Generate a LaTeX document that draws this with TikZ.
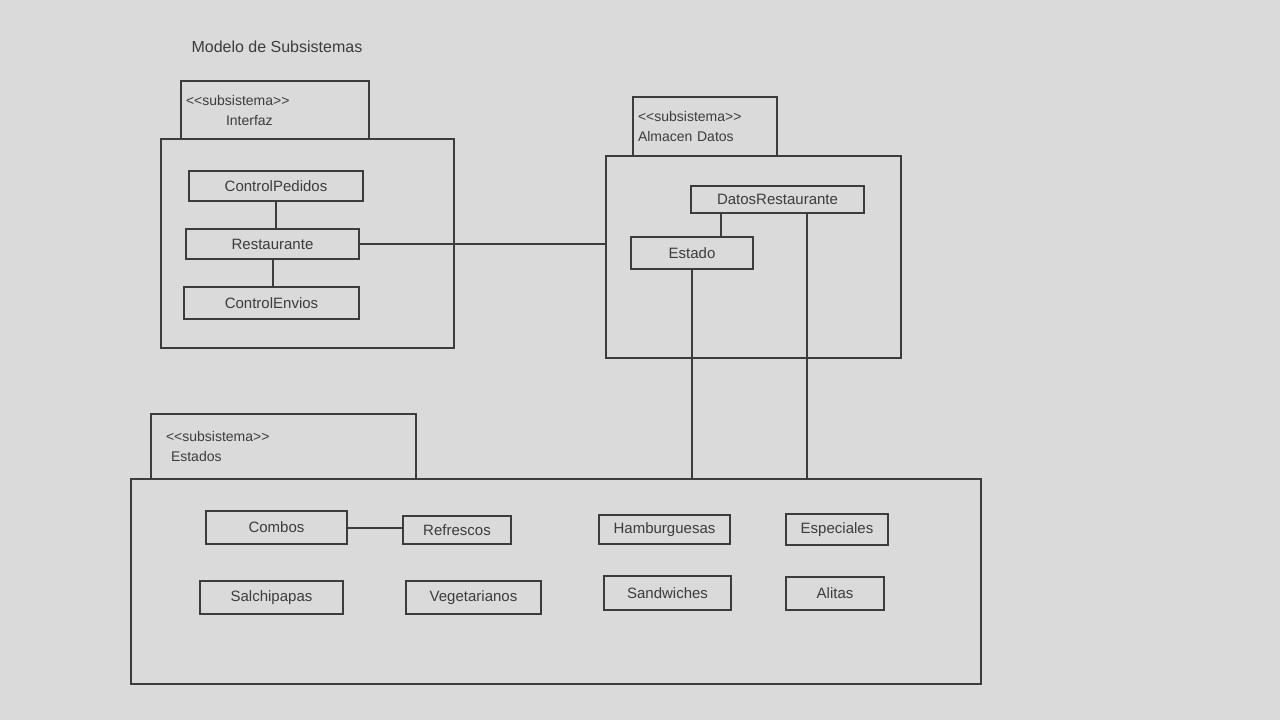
\documentclass[tikz,border=0pt]{standalone}
\usepackage{fontspec}
\setmainfont{Liberation Sans}
\definecolor{ink}{HTML}{3C3C3C}
\definecolor{paper}{HTML}{DADADA}
\begin{document}
\begin{tikzpicture}[x=1pt,y=-1pt,
  pen/.style={draw=ink, line width=2pt},
  cls/.style={pen, rectangle, anchor=north west, inner sep=3pt, text=ink,
    font=\fontsize{15}{17}\selectfont},
  tab/.style={pen, rectangle, anchor=north west, inner sep=5pt, text=ink,
    align=left, font=\fontsize{14}{20}\selectfont},
  pkg/.style={pen, rectangle, anchor=north west, inner sep=0pt},
  link/.style={draw=ink, line width=2pt}]
\useasboundingbox[fill=paper] (0,0) rectangle (1280,720);

\node[anchor=west, text=ink, font=\fontsize{16}{18}\selectfont] (title) at (188,47) {Modelo de Subsistemas};

% Interfaz
\node[tab, minimum width=188pt, minimum height=58pt, text width=178pt] (itab) at (180,80) {<{}<subsistema>{}>\\\hspace*{40pt}Interfaz};
\node[pkg, minimum width=293pt, minimum height=209pt] (ibody) at (160,138) {};
\node[cls, minimum width=174pt, minimum height=30pt] (cp) at (188,170) {ControlPedidos};
\node[cls, minimum width=173pt, minimum height=30pt] (rest) at (185,228) {Restaurante};
\node[cls, minimum width=175pt, minimum height=32pt] (ce) at (183,286) {ControlEnvios};

% Almacen Datos
\node[tab, minimum width=144pt, minimum height=59pt, text width=134pt] (atab) at (632,96) {<{}<subsistema>{}>\\Almacen Datos};
\node[pkg, minimum width=295pt, minimum height=202pt] (abody) at (605,155) {};
\node[cls, minimum width=173pt, minimum height=27pt] (dr) at (690,185) {DatosRestaurante};
\node[cls, minimum width=122pt, minimum height=32pt] (estado) at (630,236) {Estado};

% Estados
\node[tab, minimum width=265pt, minimum height=65pt, text width=255pt] (etab) at (150,413) {\hspace*{10pt}<{}<subsistema>{}>\\\hspace*{15pt}Estados};
\node[pkg, minimum width=850pt, minimum height=205pt] (ebody) at (130,478) {};
\node[cls, minimum width=141pt, minimum height=33pt] (combos) at (205,510) {Combos};
\node[cls, minimum width=108pt, minimum height=28pt] (refr) at (402,515) {Refrescos};
\node[cls, minimum width=131pt, minimum height=29pt] (hamb) at (598,514) {Hamburguesas};
\node[cls, minimum width=102pt, minimum height=31pt] (esp) at (785,513) {Especiales};
\node[cls, minimum width=143pt, minimum height=33pt] (salch) at (199,580) {Salchipapas};
\node[cls, minimum width=135pt, minimum height=33pt] (veg) at (405,580) {Vegetarianos};
\node[cls, minimum width=127pt, minimum height=34pt] (sand) at (603,575) {Sandwiches};
\node[cls, minimum width=98pt, minimum height=33pt] (alitas) at (785,576) {Alitas};

% connectors
\draw[link] (cp.south) -- (cp.south |- rest.north);
\draw[link] (rest.south) -- (rest.south |- ce.north);
\draw[link] (rest.east) -- (rest.east -| abody.west);
\draw[link] ([xshift=-56.5pt]dr.south) -- ([xshift=-56.5pt]dr.south |- estado.north);
\draw[link] ([xshift=29.5pt]dr.south) -- ([xshift=29.5pt]dr.south |- ebody.north);
\draw[link] (estado.south) -- (estado.south |- ebody.north);
\draw[link] (combos.east) -- (combos.east -| refr.west);
\end{tikzpicture}
\end{document}
